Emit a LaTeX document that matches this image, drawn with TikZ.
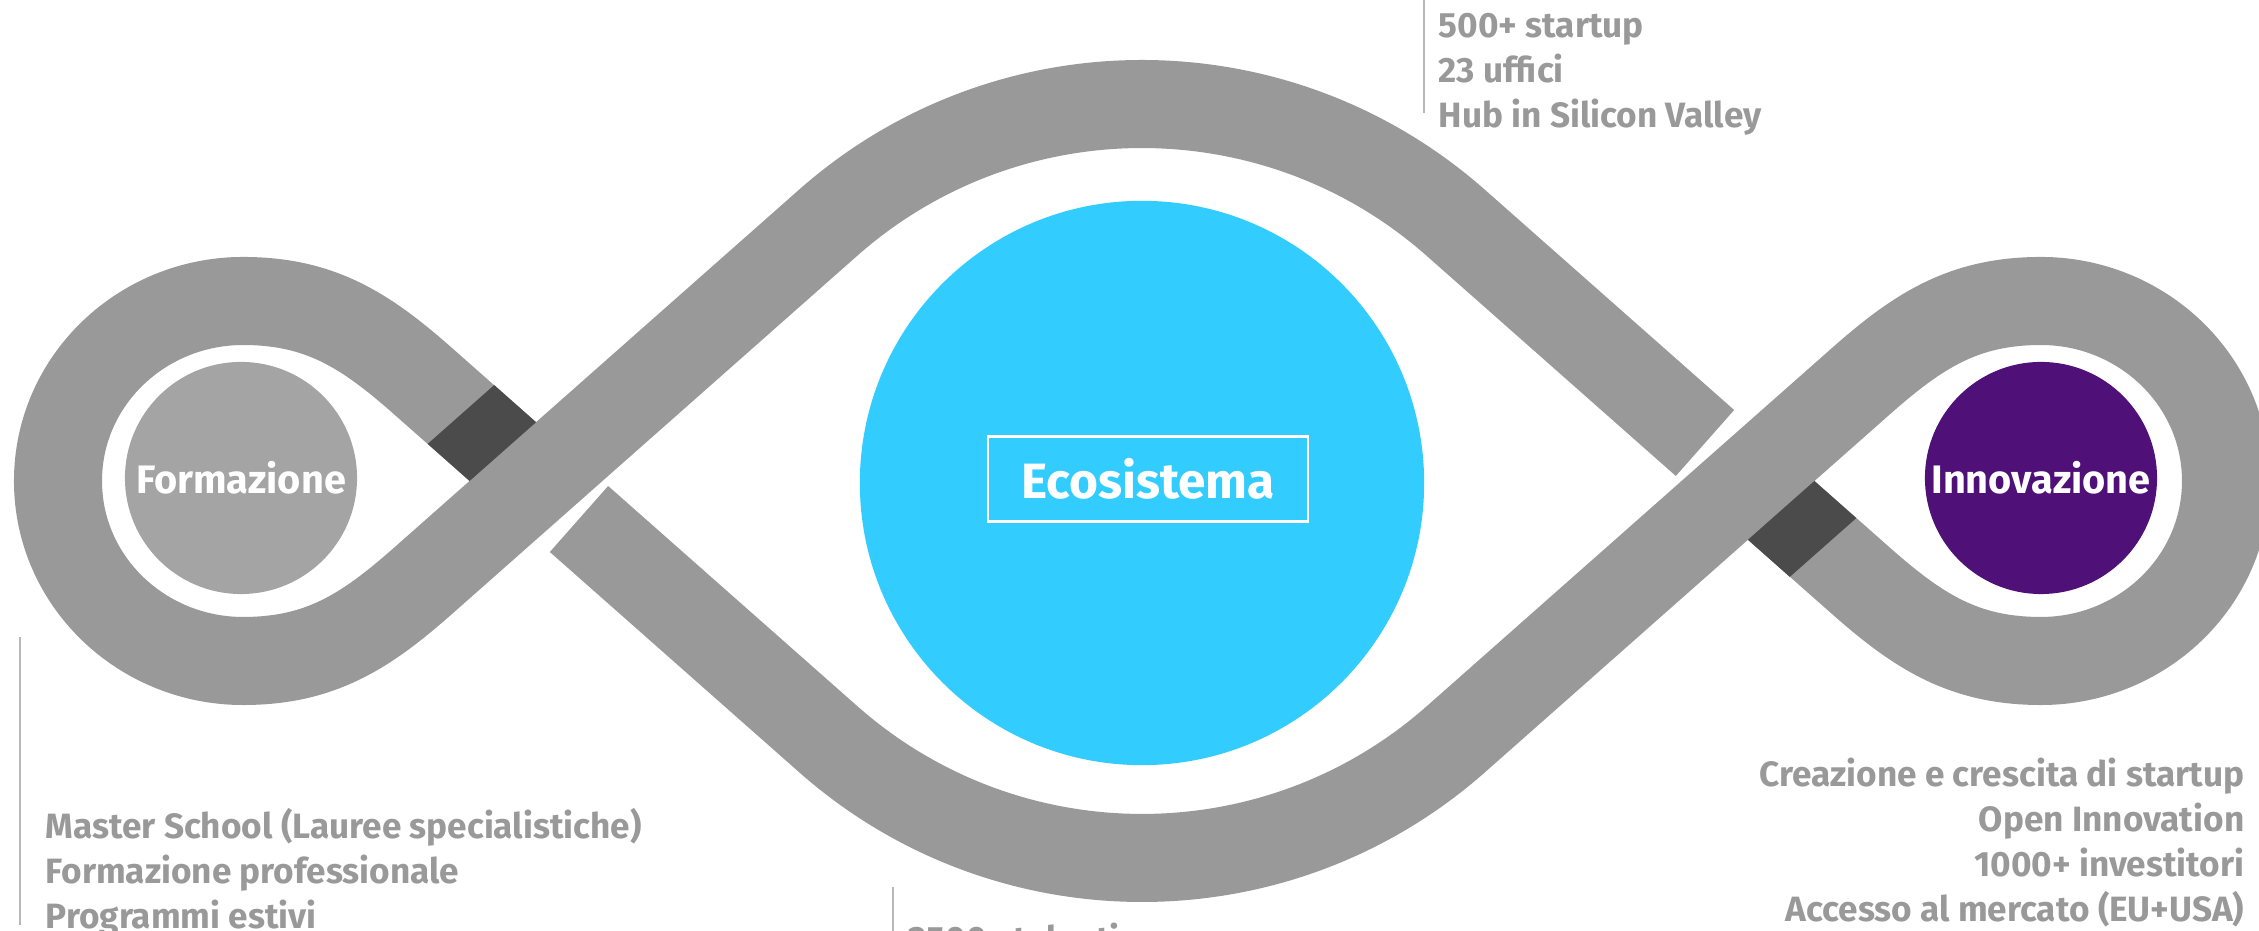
\documentclass[tikz,border=0pt]{standalone}
\usepackage{fontspec}
\setmainfont{Fira Sans}
\usetikzlibrary{calc}
\definecolor{ribbon}{HTML}{999999}
\definecolor{underband}{HTML}{4B4B4B}
\definecolor{formgray}{HTML}{A4A4A4}
\definecolor{ecoblue}{HTML}{33CCFF}
\definecolor{innopurple}{HTML}{4F1178}
\definecolor{note}{HTML}{999999}
\definecolor{rule}{HTML}{B8B8B8}

\begin{document}
\begin{tikzpicture}[x=0.01cm,y=0.01cm,
    band/.style={draw=ribbon,line width=0.88cm},
    hub/.style={circle,inner sep=0pt,minimum size=2.32cm,text=white,
      font=\bfseries\fontsize{11.3}{13}\selectfont},
    notes/.style={inner sep=0pt,text=note,align=left,
      font=\bfseries\fontsize{10}{12.8}\selectfont},
    bar/.style={draw=rule,line width=0.6pt}]
  \useasboundingbox (0,-450) rectangle (2259,481);
  \clip (0,-450) rectangle (2259,481);
  % ribbon, two strokes
  \draw[band] (579,-38) -- (828,-258) arc[start angle=228.5,end angle=311.5,radius=474]
    -- (1860,99) to[out=41.5,in=180] (2041,180) to[out=0,in=90] (2226,0)
    to[out=-90,in=0] (2041,-180) to[out=180,in=-41.5] (1860,-99) -- (1748,0);
  \draw[band] (1705,38) -- (1456,258) arc[start angle=48.5,end angle=131.5,radius=474]
    -- (424,-99) to[out=221.5,in=0] (243,-180) to[out=180,in=270] (58,0)
    to[out=90,in=180] (243,180) to[out=0,in=138.5] (424,99) -- (536,0);
  % dark parts where the ribbon goes under
  \fill[underband] (469.6,0) -- (427.7,37.1) -- (494.2,95.9) -- (536.1,58.8) -- cycle;
  \fill[underband] (1814.4,0) -- (1856.3,-37.1) -- (1789.8,-95.9) -- (1747.9,-58.8) -- cycle;

  \node[hub,fill=formgray] (form) at (241,3) {Formazione};
  \node[circle,fill=ecoblue,minimum size=5.64cm] (eco) at (1142,-2) {};
  \node[draw=white,line width=0.6pt,minimum width=3.2cm,minimum height=0.85cm,
    text=white,font=\bfseries\fontsize{14.1}{16}\selectfont] (ecolab) at (1148,2) {Ecosistema};
  \node[hub,fill=innopurple] (inno) at (2041,3) {Innovazione};

  \node[notes,anchor=north west] (econotes) at (1438,468)
    {500+ startup\\23 uffici\\Hub in Silicon Valley};
  \draw[bar] ($(econotes.north west)+(-14,13)$) -- ++(0,-113);
  \node[notes,anchor=north west] (formnotes) at (45,-327)
    {Master School (Lauree specialistiche)\\Formazione professionale\\Programmi estivi};
  \draw[bar] ($(formnotes.north west)+(-25,171)$) -- ++(0,-288);
  \node[notes,anchor=north west] (talnotes) at (908,-441) {3500+ talenti};
  \draw[bar] ($(talnotes.north west)+(-15,35)$) -- ++(0,-50);
  \node[notes,anchor=north east,align=right] (innonotes) at (2245,-276)
    {Creazione e crescita di startup\\Open Innovation\\1000+ investitori\\Accesso al mercato (EU+USA)};
\end{tikzpicture}
\end{document}
